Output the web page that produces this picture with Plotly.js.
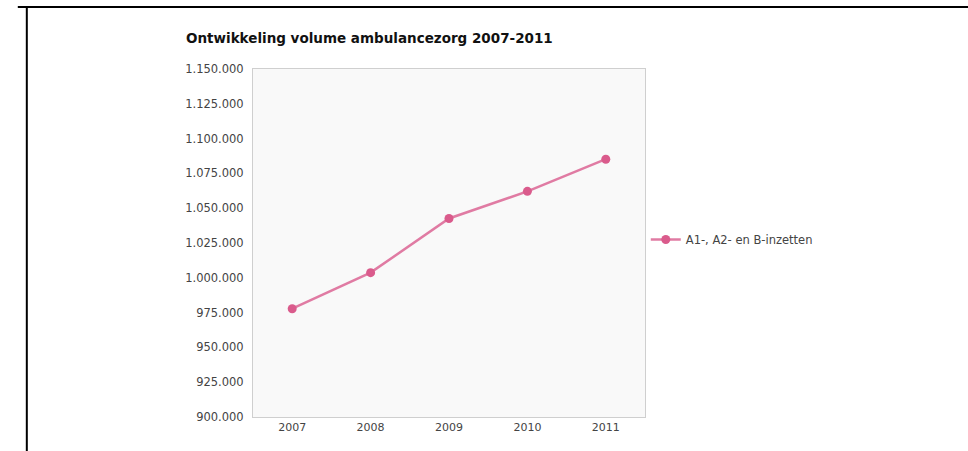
<!DOCTYPE html>
<html>
<head>
<meta charset="utf-8">
<script src="https://cdn.plot.ly/plotly-3.0.1.min.js"></script>
<style>html,body{margin:0;padding:0;background:#fff;}#chart{width:968px;height:451px;}</style>
</head>
<body>
<div id="chart"></div>
<script>
const years = ['2007', '2008', '2009', '2010', '2011'];
const volumes = [977800, 1003700, 1042600, 1062100, 1085200];
const seriesName = 'A1-, A2- en B-inzetten';
const yTicks = [900000, 925000, 950000, 975000, 1000000, 1025000, 1050000, 1075000, 1100000, 1125000, 1150000];
const chartTitle = 'Ontwikkeling volume ambulancezorg 2007-2011';

const trace = {
  x: years,
  y: volumes,
  name: seriesName,
  type: 'scatter',
  mode: 'lines+markers',
  line: {color: '#e07ba3', width: 2.5},
  marker: {color: '#da5b8c', size: 9},
  showlegend: true
};

const layout = {
  width: 968, height: 451,
  separators: ',.',
  paper_bgcolor: '#ffffff',
  plot_bgcolor: '#f9f9f9',
  margin: {l: 253, r: 323, t: 69, b: 34, pad: 0},
  font: {family: 'DejaVu Sans, Verdana, sans-serif', size: 11, color: '#444'},
  annotations: [{
    text: '<b>' + chartTitle + '</b>',
    font: {family: 'DejaVu Sans, Verdana, sans-serif', size: 13.5, color: '#111'},
    xref: 'paper', x: -0.175, xanchor: 'left',
    yref: 'paper', y: 1.09, yanchor: 'middle',
    showarrow: false
  }],
  xaxis: {
    type: 'category',
    range: [-0.5, 4.5],
    showgrid: false, zeroline: false,
    showline: true, linecolor: '#cfcfcf', linewidth: 1, mirror: true,
    ticks: '', tickfont: {size: 11, color: '#444'}
  },
  yaxis: {
    range: [900000, 1150000],
    tickvals: yTicks,
    tickformat: ',d',
    showgrid: false, zeroline: false,
    showline: true, linecolor: '#cfcfcf', linewidth: 1, mirror: true,
    ticks: '', ticklabelstandoff: 6,
    tickfont: {size: 11.5, color: '#444'}
  },
  legend: {
    x: 1.002, xanchor: 'left', y: 0.51, yanchor: 'middle',
    bgcolor: 'rgba(0,0,0,0)',
    font: {size: 11.5, color: '#444'},
    itemwidth: 30
  },
  shapes: [
    {type: 'line', xref: 'paper', yref: 'paper', x0: -0.6, x1: 1.83, y0: 1.178, y1: 1.178,
     line: {color: '#000', width: 2}},
    {type: 'line', xref: 'paper', yref: 'paper', x0: -0.577, x1: -0.577, y0: 1.18, y1: -0.2,
     line: {color: '#000', width: 2}}
  ]
};

Plotly.newPlot('chart', [trace], layout, {displayModeBar: false, staticPlot: true});
</script>
</body>
</html>
